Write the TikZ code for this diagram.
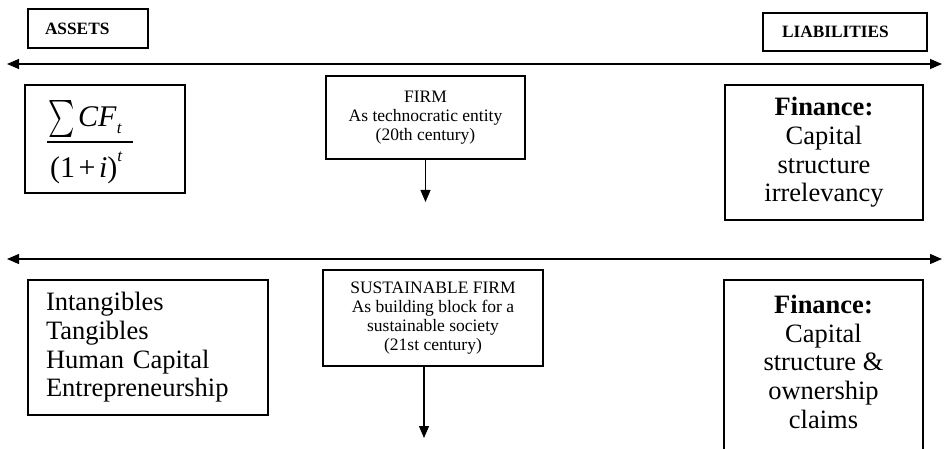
\documentclass[tikz,border=0pt]{standalone}
\usepackage{graphicx}
\usepackage{fontspec}
\setmainfont{Liberation Serif}
\usetikzlibrary{arrows.meta}
\tikzset{
  box/.style={draw, line width=1.1pt, inner sep=0pt, outer sep=0pt},
  bigtxt/.style={font=\fontsize{26.5}{28.7}\selectfont},
  smalltxt/.style={font=\fontsize{17.5}{18.8}\selectfont},
  lbl/.style={font=\fontsize{17.3}{18}\selectfont\bfseries},
  mathtxt/.style={inner sep=0pt, font=\fontsize{30}{32}\selectfont},
  arr/.style={-{Triangle[length=12pt,width=10pt]}, line width=1.1pt},
  dbl/.style={{Triangle[length=12pt,width=10pt]}-{Triangle[length=12pt,width=10pt]}, line width=1.1pt},
}
\newcommand{\smallt}{{\fontsize{17}{17}\selectfont\textit{t}}}
\begin{document}
\begin{tikzpicture}[x=1pt, y=-1pt]
\useasboundingbox (0,0) rectangle (945,449);
\clip (0,0) rectangle (945,449);

% header labels
\node[box, lbl, minimum width=120pt, minimum height=39pt, text width=86pt, align=left] (assets) at (88,28.5) {ASSETS};
\node[box, lbl, minimum width=164pt, minimum height=38pt, text width=126pt, align=left] (liab) at (845,32) {LIABILITIES};

% top axis
\coordinate (L1) at (7,64);
\coordinate (R1) at (942,64);
\draw[dbl] (L1) -- (R1);

% top row: present value box
\node[box, minimum width=160pt, minimum height=108pt] (fbox) at (105,139) {};
\node[inner sep=0pt, anchor=south west] (sumsym) at (48,137.5) {\scalebox{2.5}[3.7]{$\sum$}};
\node[mathtxt, anchor=base west] (numer) at (78,127) {\textit{CF}\raisebox{-7pt}{\smallt}};
\coordinate (barL) at (47,142);
\coordinate (barR) at (133,142);
\draw[line width=1.1pt] (barL) -- (barR);
\node[mathtxt, anchor=base west] (denom) at (50,178) {(1\kern3.5pt+\kern3.5pt\textit{i})\raisebox{16pt}{\smallt}};

\node[box, smalltxt, minimum width=199pt, minimum height=83pt, align=center] (firm) at (425.5,117.5)
  {FIRM\\As technocratic entity\\(20th century)};
\coordinate (t1) at (425.5,202);
\draw[arr] (firm.south) -- (t1);

\node[box, bigtxt, minimum width=198pt, minimum height=135pt, align=center] (fin1) at (824,152.5)
  {\textbf{Finance:}\\Capital\\structure\\irrelevancy};

% bottom axis
\coordinate (L2) at (7,259);
\coordinate (R2) at (942,259);
\draw[dbl] (L2) -- (R2);

% bottom row
\node[box, bigtxt, minimum width=240pt, minimum height=135pt, text width=204pt, align=left] (intang) at (148,347.5)
  {Intangibles\\Tangibles\\Human Capital\\Entrepreneurship};

\node[box, smalltxt, minimum width=220pt, minimum height=96pt, align=center] (sust) at (433,318)
  {SUSTAINABLE FIRM\\As building block for a\\sustainable society\\(21st century)};
\coordinate (t2) at (424,438);
\draw[arr] (sust.south -| t2) -- (t2);

\node[box, minimum width=199pt, minimum height=200pt] (fin2) at (823.5,380) {};
\node[bigtxt, inner sep=0pt, anchor=north, align=center] (fin2text) at (823.5,295)
  {\textbf{Finance:}\\Capital\\structure \&\\ownership\\claims};
\end{tikzpicture}
\end{document}
